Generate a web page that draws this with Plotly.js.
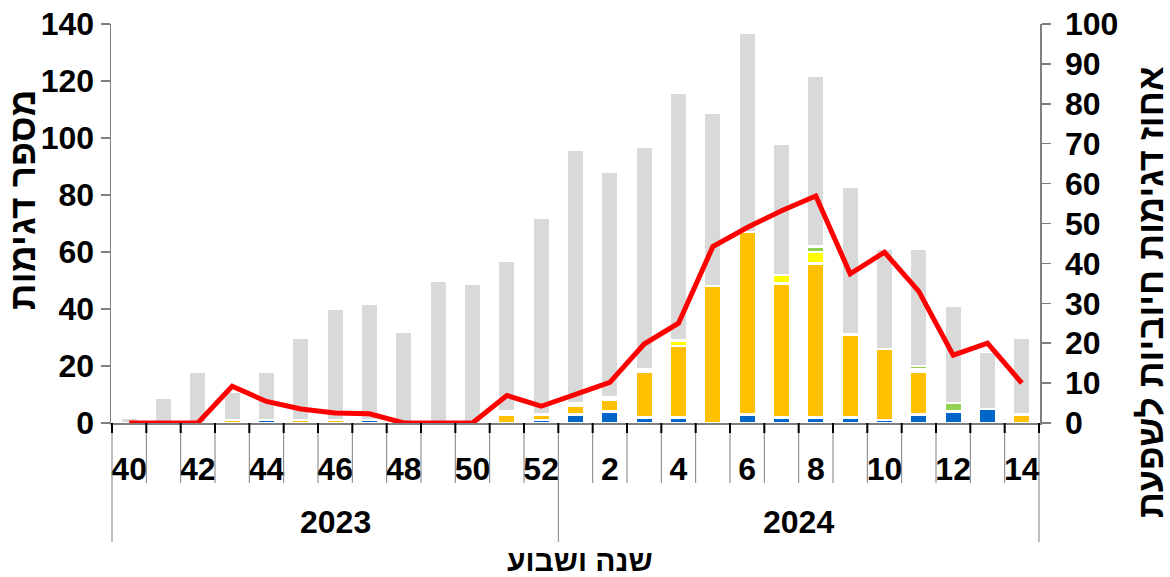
<!DOCTYPE html>
<html>
<head>
<meta charset="utf-8">
<script src="https://cdn.plot.ly/plotly-3.0.1.min.js"></script>
<style>html,body{margin:0;padding:0;background:#fff;}#chart{width:1170px;height:577px;}</style>
</head>
<body>
<div id="chart"></div>
<script>
// ---- data ----
const weeks = ['40','41','42','43','44','45','46','47','48','49','50','51','52','1','2','3','4','5','6','7','8','9','10','11','12','13','14'];
const yearLabels = ['2023','2024'];
const yearWeekCounts = [13, 14];
const weekTickLabels = ['40','42','44','46','48','50','52','2','4','6','8','10','12','14'];
const leftTicks = [0,20,40,60,80,100,120,140];
const rightTicks = [0,10,20,30,40,50,60,70,80,90,100];

const blueA = [0,0,0,0,1,0,0,1,0,0,0,0,1, 3,4,2,2,0,3,2,2,2,1,3,4,5,0];
const orangeA = [0,0,0,1,0,1,1,0,0,0,0,3,2, 3,4,16,25,48,64,47,54,29,25,15,0,0,3];
const whiteOther = [0,0,0,0,0,0,0,0,0,0,0,1,0, 1,1,1,0,0,0,0,0,0,0,1,0,0,0];
const yellowB = [0,0,0,0,0,0,0,0,0,0,0,0,0, 0,0,0,2,0,0,3,4,0,0,0,0,0,0];
const greenB = [0,0,0,0,0,0,0,0,0,0,0,0,0, 0,0,0,0,0,0,0,2,0,0,1,3,0,0];
const grayNeg = [2,9,18,10,17,29,39,41,32,50,49,53,69, 89,79,78,87,61,70,46,60,52,35,41,34,20,27];
const pctPositive = [0,0,0,9.2,5.4,3.5,2.5,2.3,0,0,0,6.9,4.2, 7.2,10.2,19.8,25.0,44.2,49.0,53.2,56.9,37.4,42.8,33.0,17.0,20.0,10.0];

// ---- styling ----
const FONT = 'Liberation Sans, Arial, sans-serif';
const TXT = {family: FONT, size: 32, color: '#000', weight: 700};
const XTITLE = {family: FONT, size: 30, color: '#000', weight: 700};
const YTITLE = {family: FONT, size: 37, color: '#000', weight: 700};
const RTITLE = {family: FONT, size: 36, color: '#000', weight: 700};
const AX = '#7f7f7f';
const plotH = 399;

function nz(a){ return a.map(v => v === 0 ? null : v); }
function barTrace(vals, color, name){
  return {type:'bar', x: weeks, y: nz(vals), name: name,
    marker:{color: color, line:{color:'#ffffff', width:2.5}}, hoverinfo:'skip'};
}

const traces = [
  barTrace(blueA, '#0066CC', 'A(H1N1)'),
  barTrace(orangeA, '#FFC000', 'A(H3N2)'),
  barTrace(whiteOther, '#FFFFFF', 'A'),
  barTrace(yellowB, '#FFFF00', 'B'),
  barTrace(greenB, '#92D050', 'B2'),
  barTrace(grayNeg, '#D9D9D9', 'neg'),
  {type:'scatter', mode:'lines', x: weeks, y: pctPositive, yaxis:'y2',
   line:{color:'#FF0000', width:5}, hoverinfo:'skip'}
];

// divider shapes at category boundaries
const shapes = [];
const yearBounds = [0];
yearWeekCounts.reduce((acc, n) => { yearBounds.push(acc + n); return acc + n; }, 0);
for (let i = 0; i <= weeks.length; i++) {
  const isYear = yearBounds.includes(i);
  shapes.push({type:'line', xref:'x', yref:'paper', x0:i-0.5, x1:i-0.5, y0:0,
    y1: isYear ? -119/plotH : -60/plotH, line:{color:AX, width:1}});
  shapes.push({type:'line', xref:'x', yref:'paper', x0:i-0.5, x1:i-0.5, y0:0,
    y1: -10/plotH, line:{color:'#000', width:2}});
}

const annotations = [];
yearLabels.forEach((lab, k) => {
  const start = yearBounds[k], end = yearBounds[k+1];
  annotations.push({xref:'x', yref:'paper', x:(start + end - 1)/2, y:-99/plotH,
    text: lab, showarrow:false, font: TXT, xanchor:'center', yanchor:'middle'});
});
annotations.push({xref:'paper', yref:'paper', x:(580-111)/929, y:-137/plotH,
  text:'שנה ושבוע', showarrow:false, font: XTITLE, xanchor:'center', yanchor:'middle'});
annotations.push({xref:'paper', yref:'paper', x:(22-111)/929, y:(423-200)/plotH,
  text:'מספר דגימות', textangle:-90, showarrow:false, font: YTITLE, xanchor:'center', yanchor:'middle'});
annotations.push({xref:'paper', yref:'paper', x:(1150-111)/929, y:(423-292)/plotH,
  text:'אחוז דגימות חיוביות לשפעת', textangle:-90, showarrow:false, font: RTITLE, xanchor:'center', yanchor:'middle'});

const layout = {
  width:1170, height:577,
  margin:{l:111, r:130, t:24, b:154, pad:0},
  paper_bgcolor:'#fff', plot_bgcolor:'#fff',
  barmode:'stack', bargap:0.49, showlegend:false,
  font:{family:FONT, color:'#000'},
  xaxis:{type:'category', showline:true, linecolor:AX, linewidth:1.5,
    tickmode:'array', tickvals: weekTickLabels, ticktext: weekTickLabels,
    ticks:'', tickfont: TXT, ticklabelstandoff: 17, showgrid:false, zeroline:false, fixedrange:true},
  yaxis:{range:[0,140], tickmode:'array', tickvals:leftTicks, showline:true, linecolor:AX, linewidth:1.5,
    ticks:'outside', ticklen:9, tickcolor:AX, tickwidth:1.5, tickfont: TXT,
    showgrid:false, zeroline:false},
  yaxis2:{range:[0,100], overlaying:'y', side:'right', tickmode:'array', tickvals:rightTicks,
    showline:true, linecolor:AX, linewidth:1.5, ticks:'outside', ticklen:9, tickcolor:AX, tickwidth:1.5,
    tickfont: TXT, ticklabelstandoff: 8, showgrid:false, zeroline:false},
  shapes: shapes,
  annotations: annotations
};

Plotly.newPlot('chart', traces, layout, {staticPlot:true, displayModeBar:false});
</script>
</body>
</html>
